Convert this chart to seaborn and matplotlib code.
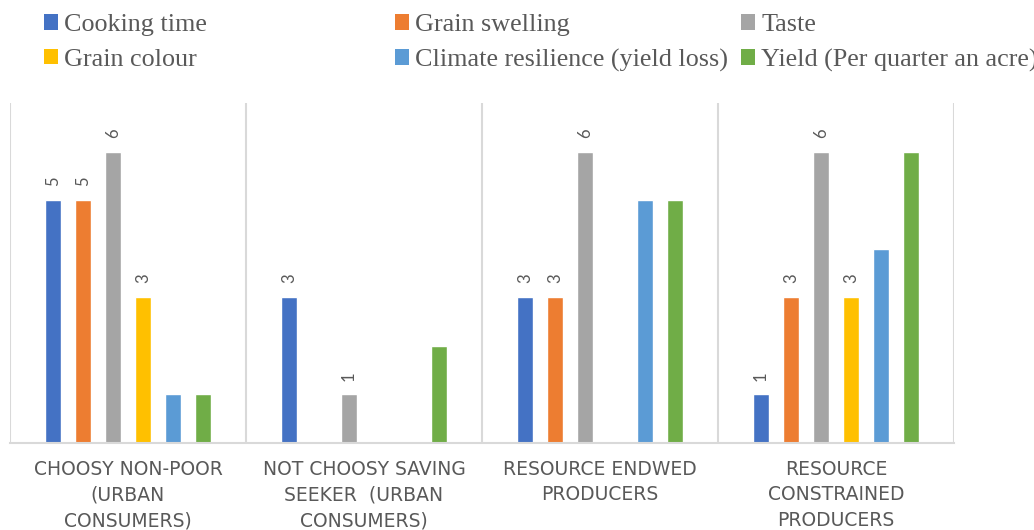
import numpy as np
import pandas as pd
import seaborn as sns
import matplotlib.pyplot as plt
from matplotlib.patches import Patch

categories = [
    "CHOOSY NON-POOR\n(URBAN\nCONSUMERS)",
    "NOT CHOOSY SAVING\nSEEKER  (URBAN\nCONSUMERS)",
    "RESOURCE ENDWED\nPRODUCERS",
    "RESOURCE\nCONSTRAINED\nPRODUCERS",
]
series = [
    "Cooking time",
    "Grain swelling",
    "Taste",
    "Grain colour",
    "Climate resilience (yield loss)",
    "Yield (Per quarter an acre)",
]
cooking_time = [5, 3, 3, 1]
grain_swelling = [5, np.nan, 3, 3]
taste = [6, 1, 6, 6]
grain_colour = [3, np.nan, np.nan, 3]
climate_resilience = [1, np.nan, 5, 4]
yield_quarter_acre = [1, 2, 5, 6]
labelled_series = ["Cooking time", "Grain swelling", "Taste", "Grain colour"]

colors = ["#4472C4", "#ED7D31", "#A5A5A5", "#FFC000", "#5B9BD5", "#70AD47"]
TEXT = "#595959"
GRID = "#D9D9D9"

values = [cooking_time, grain_swelling, taste, grain_colour,
          climate_resilience, yield_quarter_acre]
df = pd.DataFrame(
    [(c, s, v) for s, vals in zip(series, values) for c, v in zip(categories, vals)],
    columns=["category", "series", "value"],
).dropna()

sns.set_theme(style="white")
plt.rcParams["font.family"] = ["DejaVu Sans"]

fig = plt.figure(figsize=(10.34, 5.30), dpi=100)
ax = fig.add_axes([10 / 1034, 87 / 530, 944 / 1034, 340 / 530])

sns.barplot(data=df, x="category", y="value", hue="series",
            order=categories, hue_order=series, palette=colors,
            width=0.763, gap=0.467, dodge=True, legend=False,
            saturation=1, ax=ax, errorbar=None)

for name, cont in zip(series, ax.containers):
    if name in labelled_series:
        ax.bar_label(cont, fmt="%g", rotation=90, padding=10,
                     color=TEXT, fontsize=12, family="Lato")

ax.set_ylim(0, 7)
ax.set_xlim(-0.5, len(categories) - 0.5)
ax.set_yticks([])
ax.set_xlabel("")
ax.set_ylabel("")
ax.set_xticks(np.arange(len(categories) + 1) - 0.5, minor=True)
ax.grid(which="minor", axis="x", color=GRID, linewidth=1.5)
ax.tick_params(axis="x", which="both", length=0, pad=12)
for lab in ax.get_xticklabels():
    lab.set_fontsize(13.5)
    lab.set_color(TEXT)
    lab.set_linespacing(1.45)
    lab.set_va("top")
for side in ["top", "left", "right"]:
    ax.spines[side].set_visible(False)
ax.spines["bottom"].set_color(GRID)
ax.spines["bottom"].set_linewidth(1.5)

# legend laid out in three columns, row-major order
columns = [(44, [0, 3]), (395, [1, 4]), (741, [2, 5])]
for x0, idx in columns:
    handles = [Patch(facecolor=colors[i], edgecolor="none", label=series[i]) for i in idx]
    leg = fig.legend(handles=handles, loc="upper left",
                     bbox_to_anchor=(x0 / 1034, 1 - 14 / 530),
                     frameon=False, borderpad=0, borderaxespad=0,
                     handlelength=0.54, handleheight=0.54, handletextpad=0.23,
                     labelspacing=0.48,
                     prop={"family": "Liberation Serif", "size": 18.8})
    for t in leg.get_texts():
        t.set_color(TEXT)

fig.savefig("out.png", dpi=100)
